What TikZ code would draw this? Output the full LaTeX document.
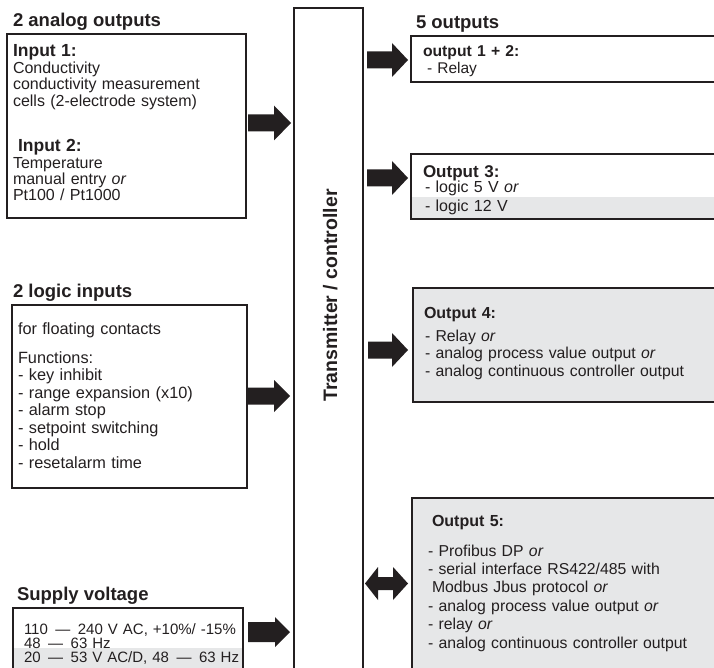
\documentclass[tikz,border=0pt]{standalone}
\usepackage{fontspec}
\setmainfont{Liberation Sans}
\definecolor{ink}{HTML}{231F20}
\definecolor{panel}{HTML}{E6E7E8}
\newcommand\fsz[2]{\fontsize{#1}{#2}\selectfont}
% right-pointing block arrow: x1, x2, yc, shaft half, head half, head length
\newcommand\rblock[6]{\fill[ink] (#1,#3-#4) -- (#2-#6,#3-#4) -- (#2-#6,#3-#5) -- (#2,#3) -- (#2-#6,#3+#5) -- (#2-#6,#3+#4) -- (#1,#3+#4) -- cycle;}
% double block arrow: x1, x2, yc, shaft half, head half, left head length, right head length
\newcommand\dblock[7]{\fill[ink] (#1,#3) -- (#1+#6,#3-#5) -- (#1+#6,#3-#4) -- (#2-#7,#3-#4) -- (#2-#7,#3-#5) -- (#2,#3) -- (#2-#7,#3+#5) -- (#2-#7,#3+#4) -- (#1+#6,#3+#4) -- (#1+#6,#3+#5) -- cycle;}
\tikzset{
  frame/.style={draw=ink, line width=2pt, rectangle, inner sep=0pt, outer sep=0pt, anchor=north west},
  band/.style={fill=panel, rectangle, inner sep=0pt, outer sep=0pt, anchor=north west},
  ttl/.style={anchor=base west, inner sep=0pt, outer sep=0pt, text=ink, font=\bfseries\fsz{18.5}{20}},
  txt/.style={anchor=base west, inner sep=0pt, outer sep=0pt, text=ink, align=left, text width=290pt},
}
\begin{document}
\begin{tikzpicture}[x=1pt,y=-1pt]
\useasboundingbox (0,0) rectangle (714,668);
\clip (0,0) rectangle (714,668);

% titles
\node[ttl] (t1) at (13,27) {2 analog outputs};
\node[ttl] (t2) at (416,29) {5 outputs};
\node[ttl] (t3) at (13,297) {2 logic inputs};
\node[ttl] (t4) at (17,600) {Supply voltage};

% bands and frames
\node[band, minimum width=320pt, minimum height=22pt] (b3) at (411,197) {};
\node[band, minimum width=230pt, minimum height=30pt] (bs) at (13,648) {};
\node[frame, minimum width=239pt, minimum height=184pt] (in1) at (7,34) {};
\node[frame, minimum width=235pt, minimum height=183pt] (logic) at (12,305) {};
\node[frame, minimum width=230pt, minimum height=80pt] (supply) at (13,608) {};
\node[frame, minimum width=69pt, minimum height=700pt] (ctrl) at (294,8) {};
\node[frame, minimum width=320pt, minimum height=46pt] (out1) at (411,36) {};
\node[frame, minimum width=320pt, minimum height=65pt] (out3) at (411,154) {};
\node[frame, fill=panel, minimum width=320pt, minimum height=114pt] (out4) at (413,288) {};
\node[frame, fill=panel, minimum width=320pt, minimum height=200pt] (out5) at (412,498) {};

% controller label
\node[anchor=base, rotate=90, inner sep=0pt, text=ink, font=\bfseries\fsz{19.5}{21}] (ctrltxt) at (337,295.5) {Transmitter / controller};

% input 1 box
\node[txt, font=\fsz{16}{16.5}] (in1a) at (13,57) {{\bfseries\fontsize{17.5}{16.5}\selectfont Input 1:}\\Conductivity\\conductivity measurement\\cells (2-electrode system)};
\node[txt, font=\fsz{16}{16.3}] (in1b) at (13,152) {\hspace*{5pt}{\bfseries\fontsize{17.5}{16.3}\selectfont Input 2:}\\Temperature\\manual entry \textit{or}\\Pt100 / Pt1000};

% logic box
\node[txt, font=\fsz{16.3}{17.5}] (lg1) at (18,334) {for floating contacts};
\node[txt, font=\fsz{16.3}{17.5}] (lg2) at (18,363) {Functions:\\- key inhibit\\- range expansion (x10)\\- alarm stop\\- setpoint switching\\- hold\\- resetalarm time};

% supply box
\node[txt, font=\fsz{15}{14}] (sp) at (24,634) {110 \,— \,240 V AC, +10\%/ -15\%\\48 \,— \,63 Hz\\20 \,— \,53 V AC/D, 48 \,— \,63 Hz};

% outputs
\node[txt, font=\bfseries\fsz{15.7}{17}] (o1h) at (423,57) {output 1 + 2:};
\node[txt, font=\fsz{15.5}{17}] (o1t) at (427,74) {- Relay};

\node[txt, font=\bfseries\fsz{17}{17}] (o3h) at (423,178) {Output 3:};
\node[txt, font=\fsz{16}{19}] (o3t) at (425,193) {- logic 5 V \textit{or}\\- logic 12 V};

\node[txt, font=\bfseries\fsz{16}{17}] (o4h) at (424,318) {Output 4:};
\node[txt, font=\fsz{15.8}{17.5}] (o4t) at (425,341) {- Relay \textit{or}\\- analog process value output \textit{or}\\- analog continuous controller output};

\node[txt, font=\bfseries\fsz{16}{17}] (o5h) at (432,526) {Output 5:};
\node[txt, font=\fsz{15.8}{18.4}] (o5t) at (428,556) {- Profibus DP \textit{or}\\- serial interface RS422/485 with\\\hspace*{4pt}Modbus Jbus protocol \textit{or}\\- analog process value output \textit{or}\\- relay \textit{or}\\- analog continuous controller output};

% block arrows
\rblock{248}{291}{123}{8.5}{17.5}{17}
\rblock{248}{290}{396}{8.5}{16}{16}
\rblock{248}{290}{632}{10}{15}{15}
\rblock{367}{408}{60}{8.5}{17}{16}
\rblock{367}{408}{178}{8.5}{17}{16}
\rblock{368}{408}{350}{8.5}{17}{16}
\dblock{365}{408}{583.5}{6.5}{16.5}{13}{15}
\end{tikzpicture}
\end{document}
